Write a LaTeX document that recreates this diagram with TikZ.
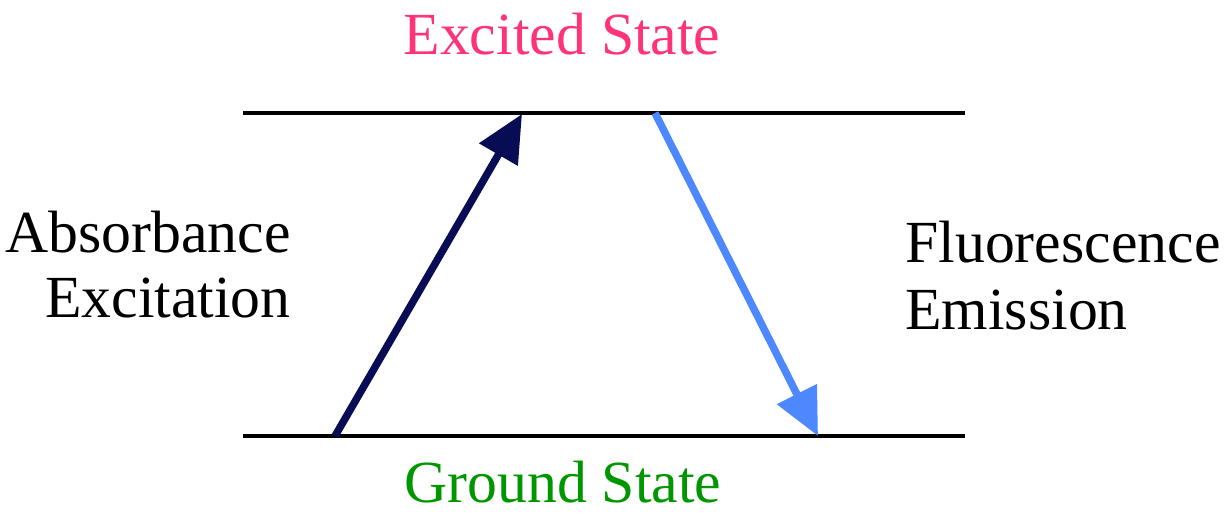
\documentclass[tikz,border=0pt]{standalone}
\usepackage{fontspec}
\setmainfont{Liberation Serif}
\usetikzlibrary{arrows.meta}
\definecolor{cpink}  {RGB}{255, 51,119}
\definecolor{cgreen} {RGB}{  0,150,  0}
\definecolor{cnavy}  {RGB}{  8, 12, 85}
\definecolor{cblue}  {RGB}{ 77,136,255}
\tikzset{
  lvl/.style={line width=0.08cm, black},
  txt/.style={font=\rmfamily\fontsize{34}{37}\selectfont, inner sep=0pt, anchor=base},
  arr/.style={line width=0.15cm, -{Triangle[length=0.94cm, width=0.86cm]}},
  pxgrid/.style={x=0.02cm, y=-0.02cm},
}

\begin{document}
\begin{tikzpicture}[pxgrid]
  \useasboundingbox (0,0) rectangle (1226,516);

  % ── Energy levels ──────────────────────────────────────────────────────────
  \coordinate (exl) at (243,113);
  \coordinate (exr) at (965,113);
  \coordinate (grl) at (243,436);
  \coordinate (grr) at (965,436);
  \draw[lvl] (exl) -- (exr);
  \draw[lvl] (grl) -- (grr);

  % ── Transition end points ─────────────────────────────────────────────────
  \coordinate (absfrom) at (335,436);
  \coordinate (absto)   at (522,114);
  \coordinate (emfrom)  at (655,113);
  \coordinate (emto)    at (818,436);

  % ── Labels ────────────────────────────────────────────────────────────────
  \node[txt, text=cpink]  at (562,55)  (exc)  {Excited State};
  \node[txt, text=cgreen] at (563,502) (gnd)  {Ground State};
  \node[txt, anchor=base east] at (291,253) (abs1) {Absorbance};
  \node[txt, anchor=base east] at (291,318) (abs2) {Excitation};
  \node[txt, anchor=base west] at (905,263) (fl1)  {Fluorescence};
  \node[txt, anchor=base west] at (905,330) (fl2)  {Emission};

  % ── Arrows ────────────────────────────────────────────────────────────────
  \draw[arr, cnavy] (absfrom) -- (absto);
  \draw[arr, cblue] (emfrom)  -- (emto);
\end{tikzpicture}
\end{document}
